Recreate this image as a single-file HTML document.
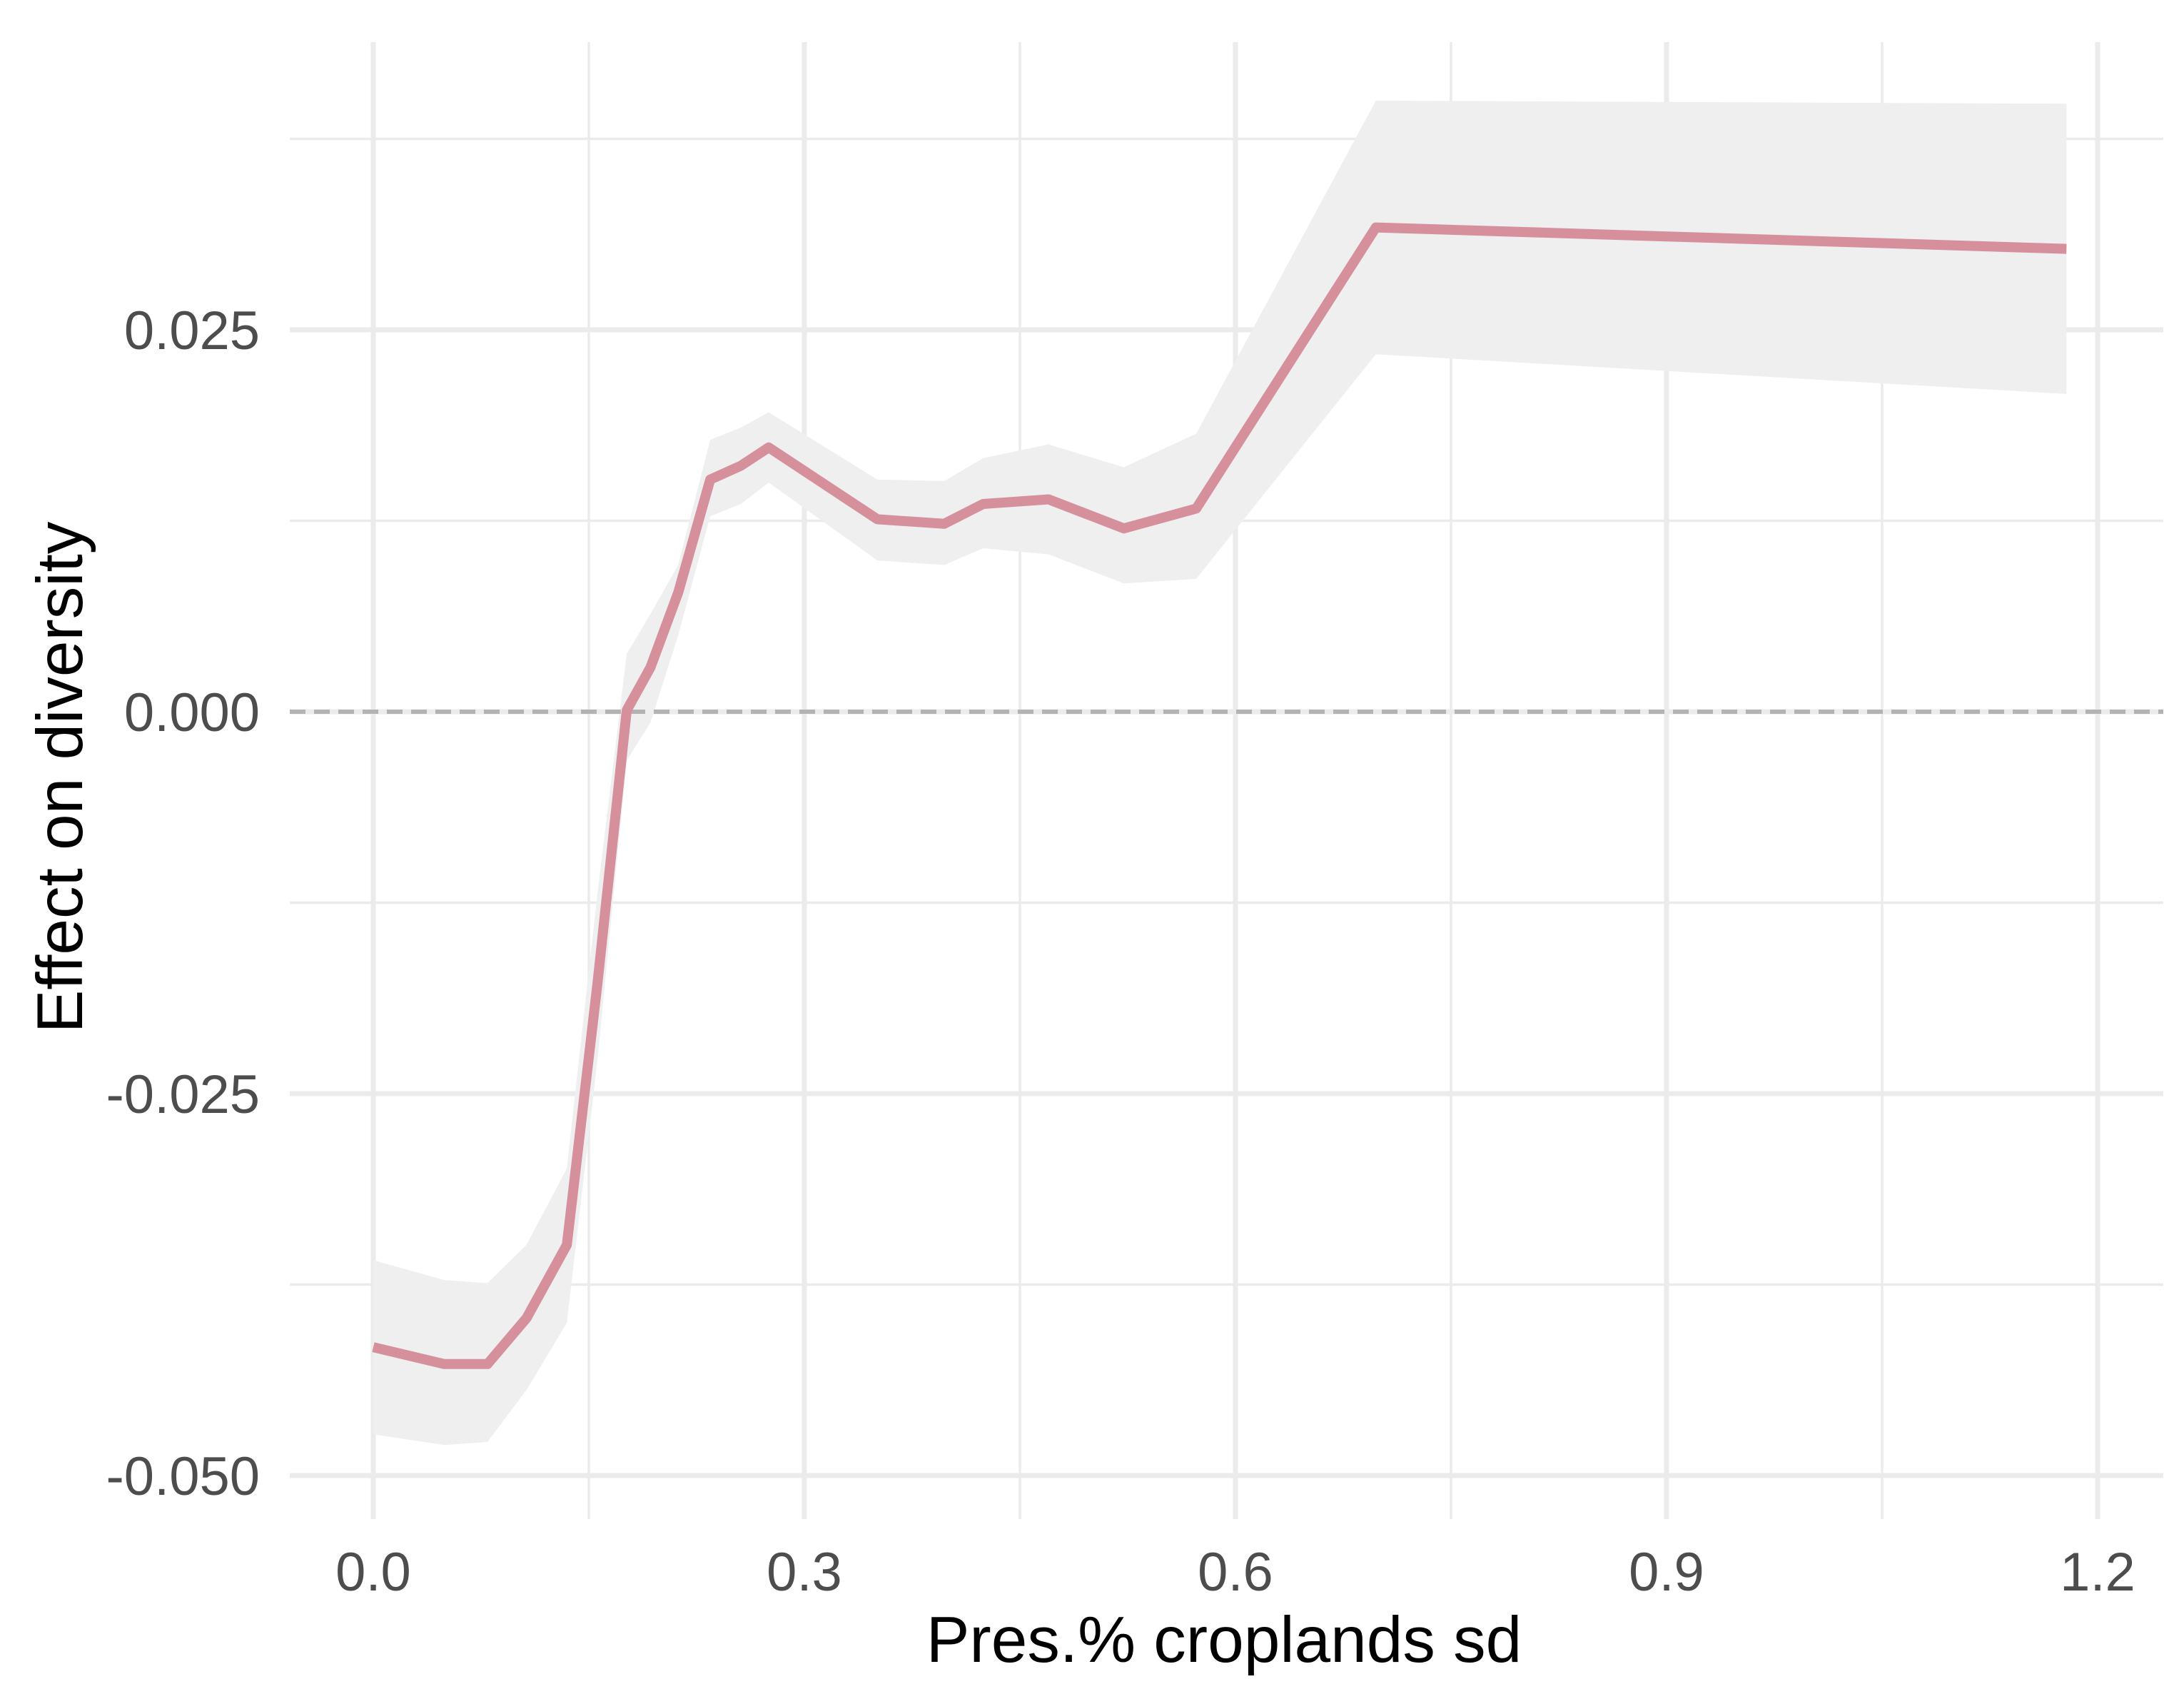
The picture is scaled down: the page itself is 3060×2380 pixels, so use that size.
<!DOCTYPE html>
<html><head><meta charset="utf-8"><style>
html,body{margin:0;padding:0;background:#fff;}
svg{display:block;font-family:"Liberation Sans",Arial,sans-serif;}
</style></head><body>
<svg id="chart" width="3060" height="2380" viewBox="0 0 3060 2380" xmlns="http://www.w3.org/2000/svg">
<rect width="3060" height="2380" fill="#fff"/>
<g id="grid"></g>
<g id="band"></g>
<g id="zero"></g>
<g id="line"></g>
<g id="xticks"></g>
<g id="yticks"></g>
<text x="1715" y="2328" font-size="91" text-anchor="middle" fill="#000">Pres.% croplands sd</text>
<text transform="translate(115,1089) rotate(-90)" font-size="91" text-anchor="middle" fill="#000">Effect on diversity</text>
</svg>
<script>
const xVals = [0, 0.0494, 0.0795, 0.1066, 0.1347, 0.156, 0.1764, 0.1929, 0.2122, 0.2345, 0.2558, 0.2752, 0.3508, 0.3973, 0.4244, 0.47, 0.5223, 0.5727, 0.6977, 1.1783];
const effect = [-0.0416, -0.0427, -0.0427, -0.0397, -0.0349, -0.0178, 0.0001, 0.0029, 0.0078, 0.0152, 0.0161, 0.0173, 0.0126, 0.0123, 0.0136, 0.0139, 0.0120, 0.0133, 0.0317, 0.0303];
const upper = [-0.0359, -0.0372, -0.0374, -0.0349, -0.0299, -0.0119, 0.0038, 0.0064, 0.0096, 0.0178, 0.0186, 0.0196, 0.0152, 0.0151, 0.0166, 0.0175, 0.0160, 0.0182, 0.0400, 0.0398];
const lower = [-0.0473, -0.0480, -0.0478, -0.0444, -0.0400, -0.0228, -0.0032, -0.0007, 0.0050, 0.0128, 0.0136, 0.0150, 0.0099, 0.0096, 0.0107, 0.0103, 0.0084, 0.0087, 0.0234, 0.0208];
const xTicks = [0, 0.3, 0.6, 0.9, 1.2];
const xTickLabels = ["0.0", "0.3", "0.6", "0.9", "1.2"];
const xMinor = [0.15, 0.45, 0.75, 1.05];
const yTicks = [-0.05, -0.025, 0, 0.025];
const yTickLabels = ["-0.050", "-0.025", "0.000", "0.025"];
const yMinor = [-0.0375, -0.0125, 0.0125, 0.0375];

const NS = "http://www.w3.org/2000/svg";
const X0 = 523, XS = 604/0.3, Y0 = 997, YS = 535/0.025;
const PL = 406, PR = 3031, PT = 59, PB = 2128;
function sx(v){ return X0 + v*XS; }
function sy(v){ return Y0 - v*YS; }
function mk(tag, attrs, parent){
  const e = document.createElementNS(NS, tag);
  for (const k in attrs) e.setAttribute(k, attrs[k]);
  parent.appendChild(e);
  return e;
}
const grid = document.getElementById('grid');
yMinor.forEach(v => {
  const l = mk('line', {x1:PL, x2:PR, y1:sy(v), y2:sy(v), stroke:'#ebebeb', 'stroke-width':3.5}, grid);
  
  
});
xMinor.forEach(v => {
  const l = mk('line', {x1:sx(v), x2:sx(v), y1:PT, y2:PB, stroke:'#ebebeb', 'stroke-width':3.5}, grid);
  
  
});
yTicks.forEach(v => {
  const l = mk('line', {x1:PL, x2:PR, y1:sy(v), y2:sy(v), stroke:'#ebebeb', 'stroke-width':7}, grid);
  
  
});
xTicks.forEach(v => {
  const l = mk('line', {x1:sx(v), x2:sx(v), y1:PT, y2:PB, stroke:'#ebebeb', 'stroke-width':7}, grid);
  
  
});
let d = '';
xVals.forEach((x,i) => { d += (i ? 'L' : 'M') + sx(x) + ',' + sy(upper[i]); });
for (let i = xVals.length-1; i >= 0; i--) d += 'L' + sx(xVals[i]) + ',' + sy(lower[i]);
d += 'Z';
const band = mk('path', {d:d, fill:'#efefef'}, document.getElementById('band'));


const z = mk('line', {x1:PL, x2:PR, y1:sy(0), y2:sy(0), stroke:'#b3b3b3', 'stroke-width':6, 'stroke-dasharray':'22 12'}, document.getElementById('zero'));


const pts = xVals.map((x,i) => sx(x) + ',' + sy(effect[i])).join(' ');
const ln = mk('polyline', {points:pts, fill:'none', stroke:'#d6909c', 'stroke-width':14, 'stroke-linejoin':'round'}, document.getElementById('line'));


xTicks.forEach((v,i) => {
  const t = mk('text', {x:sx(v), y:2228, 'font-size':76, 'text-anchor':'middle', fill:'#4d4d4d'}, document.getElementById('xticks'));
  t.textContent = xTickLabels[i];
  
  
});
yTicks.forEach((v,i) => {
  const t = mk('text', {x:364, y:sy(v)+27, 'font-size':76, 'text-anchor':'end', fill:'#4d4d4d'}, document.getElementById('yticks'));
  t.textContent = yTickLabels[i];
  
  
});
</script>
</body></html>
